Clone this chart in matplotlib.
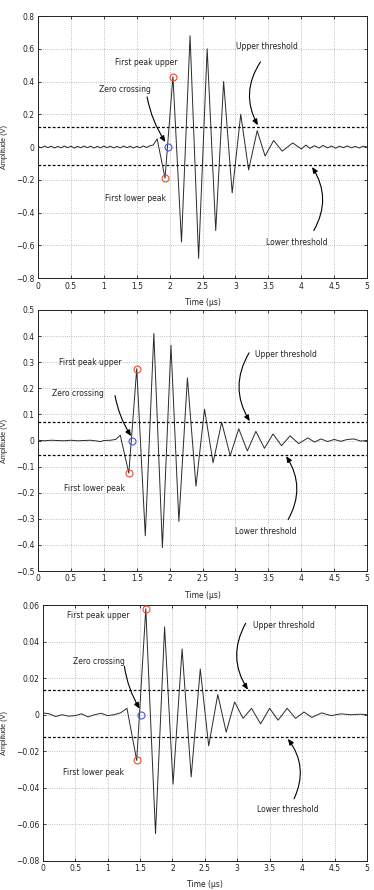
import matplotlib
matplotlib.use("Agg")
import matplotlib.pyplot as plt
from matplotlib.ticker import FuncFormatter, MultipleLocator

# ---------------- data ----------------
# Panel 1
t1 = [0.00, 0.05, 0.10, 0.15, 0.20, 0.25, 0.30, 0.35, 0.40, 0.45, 0.50, 0.55, 0.60, 0.65,
      0.70, 0.75, 0.80, 0.85, 0.90, 0.95, 1.00, 1.05, 1.10, 1.15, 1.20, 1.25, 1.30, 1.35,
      1.40, 1.45, 1.50, 1.55, 1.60, 1.65, 1.70, 1.75, 1.81, 1.93, 2.05, 2.18, 2.31, 2.44,
      2.57, 2.70, 2.82, 2.95, 3.08, 3.20, 3.33, 3.45, 3.58, 3.71, 3.87, 4.00, 4.07, 4.13,
      4.20, 4.27, 4.33, 4.40, 4.46, 4.52, 4.58, 4.64, 4.70, 4.76, 4.82, 4.88, 4.94, 5.00]
a1 = [0.004, -0.005, 0.006, -0.004, 0.005, -0.006, 0.004, -0.005, 0.006, -0.004, 0.005,
      -0.006, 0.004, -0.005, 0.006, -0.004, 0.005, -0.006, 0.004, -0.005, 0.006, -0.004,
      0.005, -0.006, 0.004, -0.005, 0.006, -0.004, 0.005, -0.006, 0.004, -0.005, 0.007,
      -0.003, 0.008, 0.012, 0.05, -0.19, 0.43, -0.58, 0.68, -0.68, 0.60, -0.51, 0.40,
      -0.28, 0.20, -0.14, 0.10, -0.055, 0.04, -0.025, 0.025, -0.012, 0.012, -0.008,
      0.008, -0.006, 0.010, -0.005, 0.006, -0.007, 0.005, -0.004, 0.007, -0.005, 0.004,
      -0.006, 0.005, 0.0]
thr1 = [0.122, -0.11]
first_lower1 = (1.93, -0.19)
zero_cross1 = (1.98, 0.0)
first_upper1 = (2.05, 0.43)

# Panel 2
t2 = [0.00, 0.10, 0.20, 0.30, 0.40, 0.50, 0.60, 0.70, 0.80, 0.90, 0.95, 1.00, 1.10, 1.18,
      1.25, 1.38, 1.50, 1.63, 1.76, 1.89, 2.02, 2.14, 2.27, 2.40, 2.53, 2.66, 2.79, 2.92,
      3.05, 3.18, 3.31, 3.44, 3.57, 3.70, 3.83, 3.96, 4.10, 4.20, 4.30, 4.40, 4.50, 4.60,
      4.70, 4.80, 4.90, 5.00]
a2 = [0.001, -0.001, 0.001, 0.0, -0.001, 0.001, -0.001, 0.0, 0.001, -0.002, -0.004, 0.0,
      0.001, 0.004, 0.02, -0.125, 0.275, -0.365, 0.41, -0.41, 0.365, -0.31, 0.24, -0.175,
      0.12, -0.085, 0.07, -0.058, 0.045, -0.04, 0.035, -0.03, 0.025, -0.02, 0.018, -0.012,
      0.01, -0.006, 0.006, -0.004, 0.004, -0.003, 0.004, 0.006, -0.002, 0.0]
thr2 = [0.072, -0.057]
first_lower2 = (1.38, -0.125)
zero_cross2 = (1.43, 0.0)
first_upper2 = (1.50, 0.275)

# Panel 3
t3 = [0.00, 0.10, 0.20, 0.30, 0.40, 0.50, 0.60, 0.70, 0.80, 0.90, 1.00, 1.10, 1.20, 1.30,
      1.45, 1.59, 1.74, 1.88, 2.01, 2.15, 2.29, 2.43, 2.56, 2.70, 2.83, 2.96, 3.09, 3.22,
      3.36, 3.50, 3.63, 3.77, 3.90, 4.03, 4.15, 4.30, 4.45, 4.60, 4.75, 4.90, 5.00]
a3 = [0.001, 0.0005, -0.001, 0.0, -0.0008, -0.0005, 0.0005, -0.0012, 0.0, 0.0008, -0.0005,
      0.0, 0.001, 0.0035, -0.025, 0.058, -0.065, 0.048, -0.038, 0.036, -0.034, 0.025,
      -0.017, 0.011, -0.0095, 0.007, -0.002, 0.0035, -0.005, 0.0035, -0.003, 0.0035,
      -0.002, 0.0015, -0.0015, 0.001, -0.0005, 0.0005, 0.0, 0.0003, 0.0]
thr3 = [0.0133, -0.0124]
first_lower3 = (1.45, -0.025)
zero_cross3 = (1.52, 0.0)
first_upper3 = (1.59, 0.058)

labels = ["First peak upper", "Zero crossing", "First lower peak",
          "Upper threshold", "Lower threshold"]

# ---------------- figure ----------------
fig = plt.figure(figsize=(3.74, 8.9), dpi=100)

panels = [
    dict(rect=[0.1016, 0.6876, 0.880, 0.2944], t=t1, a=a1, thr=thr1,
         lo=first_lower1, zc=zero_cross1, up=first_upper1,
         ylim=(-0.8, 0.8), ystep=0.2,
         txt=[(1.17, 0.516), (0.927, 0.351), (1.023, -0.316), (3.01, 0.616), (3.465, -0.585)],
         arr=[((1.657, 0.306), (1.935, 0.031), 0.1),
              ((3.38, 0.52), (3.34, 0.133), 0.3),
              ((4.19, -0.51), (4.164, -0.122), 0.3)]),
    dict(rect=[0.1016, 0.3584, 0.880, 0.2933], t=t2, a=a2, thr=thr2,
         lo=first_lower2, zc=zero_cross2, up=first_upper2,
         ylim=(-0.5, 0.5), ystep=0.1,
         txt=[(0.313, 0.300), (0.212, 0.179), (0.389, -0.185), (3.29, 0.33), (3.0, -0.35)],
         arr=[((1.17, 0.172), (1.414, 0.017), 0.1),
              ((3.207, 0.336), (3.217, 0.074), 0.3),
              ((3.80, -0.303), (3.77, -0.06), 0.3)]),
    dict(rect=[0.1141, 0.0326, 0.867, 0.2876], t=t3, a=a3, thr=thr3,
         lo=first_lower3, zc=zero_cross3, up=first_upper3,
         ylim=(-0.08, 0.06), ystep=0.02,
         txt=[(0.371, 0.0542), (0.464, 0.0289), (0.32, -0.0315), (3.24, 0.0489), (3.31, -0.052)],
         arr=[((1.26, 0.0265), (1.495, 0.0033), 0.1),
              ((3.13, 0.050), (3.165, 0.0137), 0.3),
              ((3.876, -0.046), (3.78, -0.0132), 0.3)]),
]


def fmt(v, p):
    v = round(v, 6) + 0.0
    return ("%g" % v).replace("-", "\u2212")


for P in panels:
    ax = fig.add_axes(P["rect"])
    ax.plot(P["t"], P["a"], color="#2a2a2a", lw=0.7, zorder=3)
    for y in P["thr"]:
        ax.axhline(y, color="black", lw=0.9, ls=(0, (2.2, 1.6)), zorder=2)
    ax.plot(*P["lo"], marker="o", ms=5, mfc="none", mec="#e0502a", mew=0.8, zorder=4)
    ax.plot(*P["up"], marker="o", ms=5, mfc="none", mec="#e0502a", mew=0.8, zorder=4)
    ax.plot(*P["zc"], marker="o", ms=5, mfc="none", mec="#4658c8", mew=0.8, zorder=4)

    for lab, (x, y) in zip(labels, P["txt"]):
        ax.text(x, y, lab, ha="left", va="center", fontsize=5.5, color="#222222",
                family="DejaVu Sans", zorder=5)
    for (xt, yt), (xh, yh), rad in P["arr"]:
        ax.annotate("", xy=(xh, yh), xytext=(xt, yt),
                    arrowprops=dict(arrowstyle="-|>,head_length=0.35,head_width=0.15",
                                    connectionstyle="arc3,rad=%g" % rad,
                                    color="black", lw=0.8, shrinkA=0, shrinkB=0),
                    zorder=5)

    ax.set_xlim(0, 5)
    ax.set_ylim(*P["ylim"])
    ax.xaxis.set_major_locator(MultipleLocator(0.5))
    ax.yaxis.set_major_locator(MultipleLocator(P["ystep"]))
    ax.xaxis.set_major_formatter(FuncFormatter(fmt))
    ax.yaxis.set_major_formatter(FuncFormatter(fmt))
    ax.grid(True, ls=":", color="#aaaaaa", lw=0.6)
    ax.tick_params(direction="in", length=2.5, width=0.6, labelsize=5.5,
                   top=True, right=True, pad=2.5, colors="#222222")
    for s in ax.spines.values():
        s.set_linewidth(0.7)
        s.set_color("#222222")
    ax.set_xlabel("Time (\u00b5s)", fontsize=5.5, color="#222222")
    ax.set_ylabel("Amplitude (V)", fontsize=5.2, color="#222222", family="Liberation Sans")
    ax.xaxis.set_label_coords(0.5, -0.075)
    left_px = P["rect"][0] * 374
    ax.yaxis.set_label_coords((8 - left_px) / (P["rect"][2] * 374), 0.5)

fig.savefig("out.png", dpi=100)
